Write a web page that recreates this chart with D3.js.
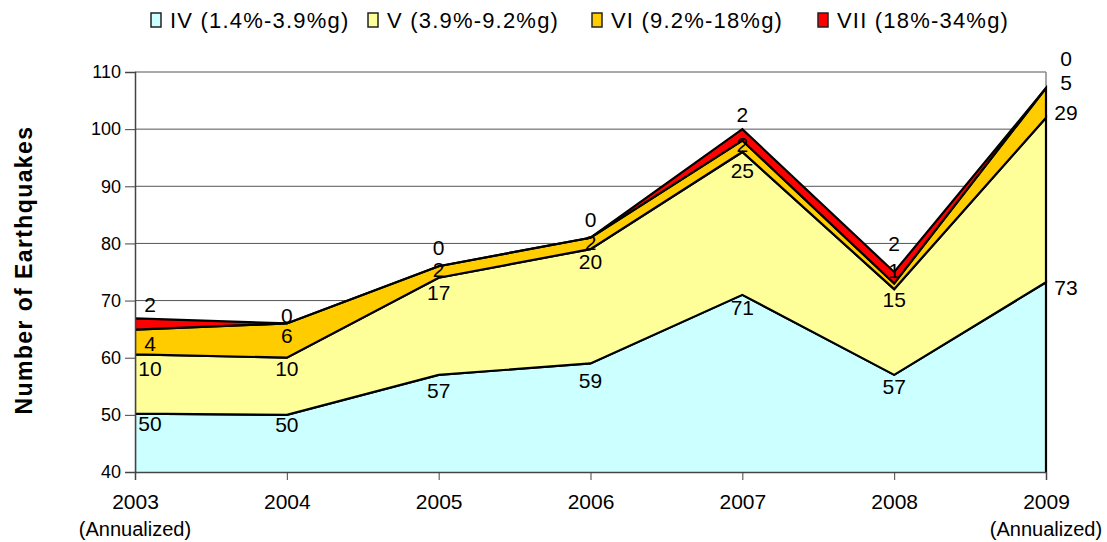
<!DOCTYPE html>
<html><head><meta charset="utf-8">
<script src="https://cdn.jsdelivr.net/npm/d3@7"></script>
<style>body{margin:0;background:#fff}svg{display:block;font-family:"Liberation Sans",Arial,sans-serif}</style>
</head><body><svg id="c" width="1107" height="542"></svg>
<script>
const years = ["2003","2004","2005","2006","2007","2008","2009"];
const yearNotes = ["(Annualized)","","","","","","(Annualized)"];
const seriesNames = ["IV (1.4%-3.9%g)","V (3.9%-9.2%g)","VI (9.2%-18%g)","VII (18%-34%g)"];
const seriesIV  = [50.2, 50, 57, 59, 71, 57, 73.2];
const seriesV   = [10.4, 10, 17, 20, 25, 15, 28.8];
const seriesVI  = [4.3, 6, 2, 2, 2, 1, 5.2];
const seriesVII = [2, 0, 0, 0, 2, 2, 0];
const yTicks = [40,50,60,70,80,90,100,110];
const colors = ["#CCFFFF","#FFFF99","#FFCC00","#FF0000"];
// label vertical nudges (px) relative to each series' top edge
const labelDy = [
  [10,10,16,17,13,12,5],
  [14,11,15,12,18,10,-5],
  [14,12,3,5,4,-13,-6],
  [-14,-8,-19,-18,-15,-29,-30]
];

const svg = d3.select("#c");
const L=135,R=1046,T=72,B=472;
const x = d3.scalePoint().domain(years).range([L,R]);
const y = d3.scaleLinear().domain([40,110]).range([B,T]);
const data = years.map((yr,i)=>({year:yr,s0:seriesIV[i],s1:seriesV[i],s2:seriesVI[i],s3:seriesVII[i]}));
const keys=["s0","s1","s2","s3"];
const stacked = d3.stack().keys(keys)(data);
const FF = "Liberation Sans, Arial, sans-serif";

// gridlines
svg.append("g").selectAll("line").data(yTicks.filter(t=>t>40)).join("line")
  .attr("x1",L).attr("x2",R).attr("y1",d=>y(d)).attr("y2",d=>y(d))
  .attr("stroke","#555").attr("stroke-width",1);
svg.append("line").attr("x1",R).attr("x2",R).attr("y1",T).attr("y2",B).attr("stroke","#888").attr("stroke-width",1.5);

svg.append("clipPath").attr("id","clip").append("rect").attr("x",L).attr("y",T-10).attr("width",R-L+2).attr("height",B-T+10);

const area = d3.area().x(d=>x(d.data.year)).y0(d=>y(Math.max(d[0],38))).y1(d=>y(d[1]));
svg.append("g").attr("clip-path","url(#clip)").selectAll("path").data(stacked).join("path")
  .attr("d",area).attr("fill",(d,i)=>colors[i]).attr("stroke","#000").attr("stroke-width",2.2).attr("stroke-linejoin","miter");

// axes
const ya = svg.append("g").attr("transform",`translate(${L},0)`).call(d3.axisLeft(y).tickValues(yTicks).tickSize(10).tickPadding(4));
ya.select(".domain").attr("stroke","#444").attr("stroke-width",1.5);
ya.selectAll(".tick line").attr("stroke","#444");
ya.selectAll("text").attr("font-size",18).attr("fill","#000").attr("font-family",FF);
const xa = svg.append("g").attr("transform",`translate(0,${B})`).call(d3.axisBottom(x).tickSize(8).tickPadding(14));
xa.select(".domain").attr("stroke","#444").attr("stroke-width",1.5);
xa.selectAll(".tick line").attr("stroke","#444");
xa.selectAll("text").attr("font-size",21).attr("fill","#000").attr("font-family",FF);
svg.append("g").selectAll("text").data(years).join("text")
  .attr("x",d=>x(d)).attr("y",536).attr("text-anchor","middle").attr("font-size",20)
  .text((d,i)=>yearNotes[i]);

// data labels
const fmt = d3.format(".0f");
stacked.forEach((s,si)=>{
  svg.append("g").selectAll("text").data(s).join("text")
    .attr("x",(d,i)=>x(d.data.year)+(i===0?15:i===years.length-1?20:0))
    .attr("y",(d,i)=>y(d[1])+labelDy[si][i]).attr("dy","0.36em")
    .attr("text-anchor","middle").attr("font-size",21)
    .text(d=>fmt(d[1]-d[0]));
});

// y title
svg.append("text").attr("transform","translate(32,270) rotate(-90)").attr("text-anchor","middle")
  .attr("font-size",23).attr("font-weight","bold").attr("letter-spacing",1.4).text("Number of Earthquakes");

// legend
const lx=[151,368,592,818];
const lg = svg.append("g").selectAll("g").data(seriesNames).join("g").attr("transform",(d,i)=>`translate(${lx[i]},20)`);
lg.append("rect").attr("x",0).attr("y",-7).attr("width",10).attr("height",14).attr("fill",(d,i)=>colors[i]).attr("stroke","#222").attr("stroke-width",1.5);
lg.append("text").attr("x",19).attr("dy","0.36em").attr("font-size",22).attr("letter-spacing",1.2).text(d=>d);
</script></body></html>
